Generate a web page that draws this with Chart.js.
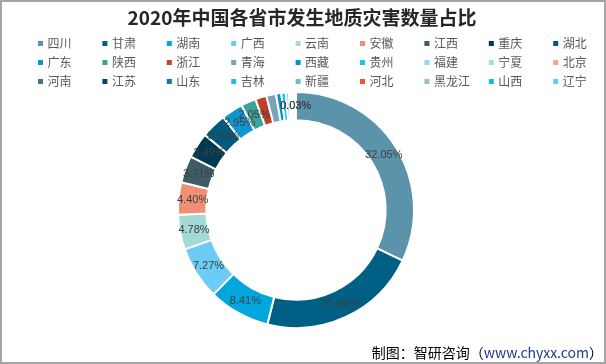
<!DOCTYPE html>
<html>
<head>
<meta charset="utf-8">
<script src="https://cdn.jsdelivr.net/npm/chart.js@4/dist/chart.umd.min.js"></script>
<style>
  html, body { margin: 0; padding: 0; background: #fff; }
  #wrap { width: 606px; height: 364px; position: relative; }
</style>
</head>
<body>
<div id="wrap"><canvas id="geoChart" width="606" height="364"></canvas></div>
<script>
// 2020年各省市地质灾害数量占比（%）
const provinces = ['四川', '甘肃', '湖南', '广西', '云南', '安徽', '江西', '重庆', '湖北',
    '广东', '陕西', '浙江', '青海', '西藏', '贵州', '福建', '宁夏', '北京',
    '河南', '江苏', '山东', '吉林', '新疆', '河北', '黑龙江', '山西', '辽宁'];
const shares = [32.05, 21.86, 8.41, 7.27, 4.78, 4.40, 3.71, 3.49, 3.44,
    2.95, 2.05, 1.54, 1.33, 0.72, 0.62, 0.41, 0.31, 0.15,
    0.10, 0.10, 0.08, 0.05, 0.05, 0.05, 0.03, 0.03, 0.02];
const sliceColors = ['#5b93ab', '#005f85', '#00a6dc', '#6bcdf5', '#a3d9d6', '#ef9075', '#3e5b66', '#003a50', '#005a7e',
    '#0f96cf', '#3ba29a', '#c0402b', '#7aa5b8', '#0095c8', '#1ac3f0', '#8bdaf5', '#a8dcd9', '#f2a593',
    '#4a7386', '#004a66', '#0f7aa8', '#2fb7ea', '#66c2b8', '#e65c3a', '#9bbbc9', '#13b6f0', '#57d1f7'];
// 图上标注了数值的省份
const labelled = ['四川', '甘肃', '湖南', '广西', '云南', '安徽', '江西', '重庆', '湖北', '广东', '陕西', '黑龙江', '山西'];

const titleText = '2020年中国各省市发生地质灾害数量占比';

const decorPlugin = {
    id: 'decor',
    afterDraw(chart) {
        const ctx = chart.ctx;
        ctx.save();

        // 外框
        ctx.strokeStyle = '#a5a5a5';
        ctx.lineWidth = 2;
        ctx.strokeRect(1, 1, 604, 362);

        // 标题
        ctx.fillStyle = '#262626';
        ctx.font = 'bold 19px "Noto Sans CJK SC"';
        ctx.textAlign = 'center';
        ctx.textBaseline = 'middle';
        ctx.fillText(titleText, 302, 18);

        // 图例 9 列 x 3 行
        ctx.font = '12px "Noto Sans CJK SC"';
        ctx.textAlign = 'left';
        provinces.forEach((name, i) => {
            const col = i % 9;
            const row = Math.floor(i / 9);
            const x = 38 + col * 64.4;
            const y = 43.5 + row * 19;
            ctx.fillStyle = sliceColors[i];
            ctx.fillRect(x, y - 2.5, 5, 5);
            ctx.fillStyle = '#595959';
            ctx.fillText(name, x + 9.5, y);
        });

        // 数据标签
        const meta = chart.getDatasetMeta(0);
        ctx.font = '11px "Liberation Sans"';
        ctx.textAlign = 'center';
        ctx.fillStyle = '#404040';
        meta.data.forEach((arc, i) => {
            if (!labelled.includes(provinces[i])) return;
            const p = arc.getProps(['x', 'y', 'startAngle', 'endAngle', 'innerRadius', 'outerRadius'], true);
            const mid = (p.startAngle + p.endAngle) / 2;
            const r = (p.innerRadius + p.outerRadius) / 2;
            ctx.fillText(shares[i].toFixed(2) + '%', p.x + Math.cos(mid) * r, p.y + Math.sin(mid) * r);
        });

        // 来源
        ctx.font = '14px "Noto Sans CJK SC"';
        ctx.textAlign = 'left';
        const part1 = '制图：智研咨询（';
        const part2 = 'www.chyxx.com';
        const part3 = '）';
        const w1 = ctx.measureText(part1).width;
        const w2 = ctx.measureText(part2).width;
        const w3 = ctx.measureText(part3).width;
        let sx = 603 - (w1 + w2 + w3);
        ctx.fillStyle = '#000';
        ctx.fillText(part1, sx, 353);
        sx += w1;
        ctx.fillStyle = '#1f3c88';
        ctx.fillText(part2, sx, 353);
        sx += w2;
        ctx.fillStyle = '#000';
        ctx.fillText(part3, sx, 353);

        ctx.restore();
    },
};

new Chart(document.getElementById('geoChart'), {
    type: 'doughnut',
    data: {
        labels: provinces,
        datasets: [{
            data: shares,
            backgroundColor: sliceColors,
            borderColor: '#ffffff',
            borderWidth: 2,
            hoverOffset: 0,
        }],
    },
    options: {
        responsive: false,
        devicePixelRatio: 1,
        animation: false,
        cutout: '76%',
        layout: {
            padding: { top: 91, bottom: 35, left: 146, right: 160 },
        },
        plugins: {
            legend: { display: false },
            title: { display: false },
            tooltip: { enabled: false },
        },
    },
    plugins: [decorPlugin],
});
</script>
</body>
</html>
